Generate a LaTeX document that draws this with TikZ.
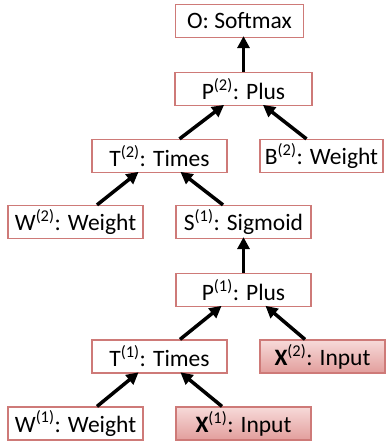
\documentclass[tikz,border=0pt]{standalone}
\usepackage{fontspec}
\setmainfont{Carlito}
\usepackage{tikz}
\usetikzlibrary{arrows.meta}

\definecolor{boxline}{RGB}{206,122,120}
\definecolor{inputtop}{RGB}{247,218,217}
\definecolor{inputbot}{RGB}{226,158,156}

\tikzset{
  op/.style={draw=boxline, line width=1.2pt, fill=white, minimum width=135pt, minimum height=33pt,
    inner sep=0pt, font=\fontsize{23.5}{27}\selectfont},
  inp/.style={op, top color=inputtop, bottom color=inputbot},
  arr/.style={-{Triangle[length=12pt,width=12pt]}, line width=3.5pt, black, shorten >=-2pt},
}

\begin{document}
\begin{tikzpicture}[x=1pt, y=1pt]
    \useasboundingbox (0,0) rectangle (386,-442);
    % nodes
    \node [op, minimum width=128pt] (o) at (239.5,-21) {O: Softmax};
    \node [op, minimum width=137pt] (p2) at (243.5,-89) {P\textsuperscript{(2)}: Plus};
    \node [op] (t2) at (159.5,-156) {T\textsuperscript{(2)}: Times};
    \node [op, minimum width=123pt] (b2) at (321.5,-156) {B\textsuperscript{(2)}: Weight};
    \node [op] (w2) at (75.5,-222) {W\textsuperscript{(2)}: Weight};
    \node [op] (s1) at (243.5,-222) {S\textsuperscript{(1)}: Sigmoid};
    \node [op] (p1) at (243.5,-290) {P\textsuperscript{(1)}: Plus};
    \node [op] (t1) at (159.5,-356.5) {T\textsuperscript{(1)}: Times};
    \node [inp, minimum width=125pt] (x2) at (322.5,-356.5) {\textbf{X}\textsuperscript{(2)}: Input};
    \node [op] (w1) at (75.5,-423.5) {W\textsuperscript{(1)}: Weight};
    \node [inp] (x1) at (243.5,-423.5) {\textbf{X}\textsuperscript{(1)}: Input};
    % edges
    \draw [arr] (p2.north) -- (p2.north |- o.south);
    \draw [arr] ([xshift=20pt]t2.north) -- ([xshift=-21pt]p2.south);
    \draw [arr] ([xshift=-15pt]b2.north) -- ([xshift=21pt]p2.south);
    \draw [arr] ([xshift=21.5pt]w2.north) -- ([xshift=-22.5pt]t2.south);
    \draw [arr] ([xshift=-20.5pt]s1.north) -- ([xshift=22.5pt]t2.south);
    \draw [arr] (p1.north) -- (s1.south);
    \draw [arr] ([xshift=20.5pt]t1.north) -- ([xshift=-23.5pt]p1.south);
    \draw [arr] ([xshift=-17.5pt]x2.north) -- ([xshift=23.5pt]p1.south);
    \draw [arr] ([xshift=21.5pt]w1.north) -- ([xshift=-22.5pt]t1.south);
    \draw [arr] ([xshift=-21.5pt]x1.north) -- ([xshift=22.5pt]t1.south);
\end{tikzpicture}
\end{document}
